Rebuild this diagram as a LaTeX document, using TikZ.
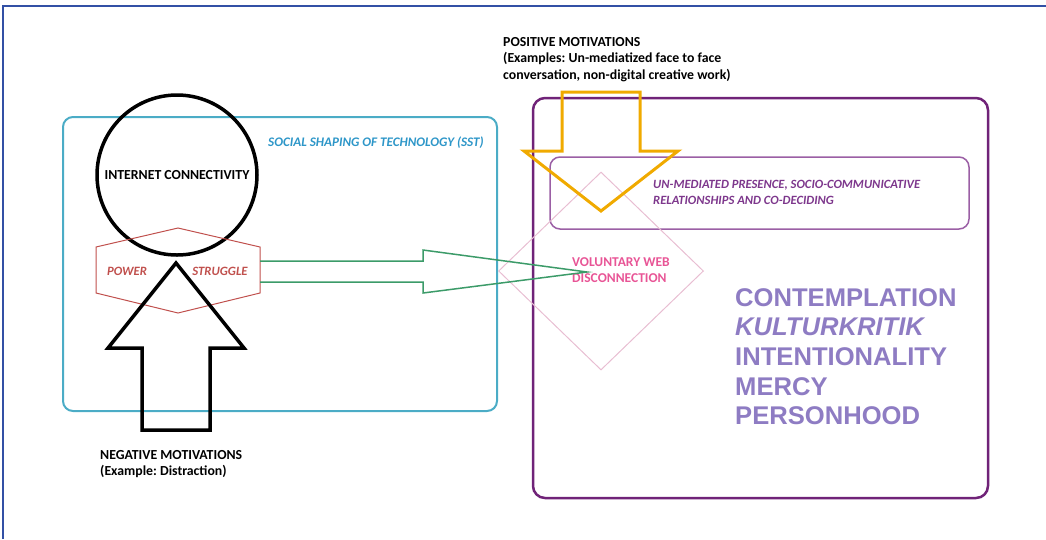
\documentclass[tikz,border=0pt]{standalone}
\usepackage{fontspec}
\setmainfont{Carlito}
\newfontfamily\bigsans{Liberation Sans}
\usetikzlibrary{shapes.geometric,positioning}
\frenchspacing

\definecolor{frameblue}{RGB}{50,80,165}
\definecolor{sstcyan}{RGB}{75,172,198}
\definecolor{ssttext}{RGB}{45,150,200}
\definecolor{hexred}{RGB}{192,80,77}
\definecolor{arrowgreen}{RGB}{60,155,105}
\definecolor{diapink}{RGB}{232,190,210}
\definecolor{textpink}{RGB}{232,85,150}
\definecolor{outerpurple}{RGB}{112,35,120}
\definecolor{innerpurple}{RGB}{155,95,165}
\definecolor{textpurple}{RGB}{125,55,140}
\definecolor{motorange}{RGB}{240,170,0}
\definecolor{lavender}{RGB}{142,124,195}

\tikzstyle{txt} = [inner sep=0pt, align=left, font=\fontsize{13.8}{16.5}\selectfont\bfseries]
\tikzstyle{roundbox} = [rectangle, rounded corners=10pt, draw]
\tikzstyle{blockarrow} = [line join=miter]

\begin{document}
\begin{tikzpicture}[x=1pt,y=-1pt]
\useasboundingbox (0,0) rectangle (1046,539);
% frame
\draw[frameblue, line width=2pt] (3,539) -- (3,6) -- (1046,6);

% left side
\node (sst) [roundbox, sstcyan, line width=2pt, minimum width=434, minimum height=294] at (280,264) {};
\node (sstlabel) [txt, anchor=west, text=ssttext, font=\fontsize{13.1}{16}\selectfont\bfseries\itshape] at (268,143) {SOCIAL SHAPING OF TECHNOLOGY (SST)};
\node (conn) [circle, draw, line width=3.5pt, minimum size=160, inner sep=0pt, font=\fontsize{13.8}{16}\selectfont\bfseries] at (177,175) {INTERNET CONNECTIVITY};

\draw[hexred, line width=1pt] (178,228) -- (260,247) -- (260,293) -- (178,313) -- (96,293) -- (96,247) -- cycle;
\node (power) [txt, text=hexred, font=\fontsize{12.7}{16}\selectfont\bfseries\itshape] at (127,271) {POWER};
\node (struggle) [txt, text=hexred, font=\fontsize{12.7}{16}\selectfont\bfseries\itshape] at (220,271) {STRUGGLE};

% negative motivations
\draw[blockarrow, line width=3.5pt] (142,430) -- (142,348) -- (108,348) -- (176,263) -- (244,348) -- (210,348) -- (210,430) -- cycle;
\node (neg) [txt, anchor=north west] at (100,450) {NEGATIVE MOTIVATIONS\\(Example: Distraction)};

% right side
\node (gaze) [roundbox, outerpurple, line width=2.5pt, rounded corners=12pt, minimum width=455, minimum height=400] at (760.5,298) {};
\node (presence) [roundbox, innerpurple, line width=1.5pt, minimum width=419, minimum height=72] at (759.5,193) {};
\node (presencetext) [txt, anchor=north west, text=textpurple, font=\fontsize{12.6}{16.5}\selectfont\bfseries\itshape] at (653,180) {UN-MEDIATED PRESENCE, SOCIO-COMMUNICATIVE\\RELATIONSHIPS AND CO-DECIDING};

\node (vwd) [diamond, draw=diapink, line width=1pt, minimum width=205, minimum height=198, inner sep=0pt] at (601,271) {};
\node (vwdtext) [txt, anchor=north west, text=textpink, font=\fontsize{13.5}{16}\selectfont\bfseries] at (572,257) {VOLUNTARY WEB\\DISCONNECTION};

% green arrow to disconnection
\draw[blockarrow, arrowgreen, line width=1.5pt] (260,261) -- (423,261) -- (423,250) -- (587,272) -- (423,293) -- (423,282) -- (260,282);

% positive motivations
\draw[blockarrow, motorange, line width=3pt] (562,92) -- (640,92) -- (640,151) -- (678,151) -- (601,211) -- (524,151) -- (562,151) -- cycle;
\node (pos) [txt, anchor=north west] at (503,37) {POSITIVE MOTIVATIONS\\(Examples: Un-mediatized face to face\\conversation, non-digital creative work)};

\node (values) [anchor=north west, inner sep=0pt, align=left, text=lavender, font=\bigsans\bfseries\fontsize{25.6}{29.7}\selectfont] at (735,288) {CONTEMPLATION\\\textit{KULTURKRITIK}\\INTENTIONALITY\\MERCY\\PERSONHOOD};
\end{tikzpicture}
\end{document}
